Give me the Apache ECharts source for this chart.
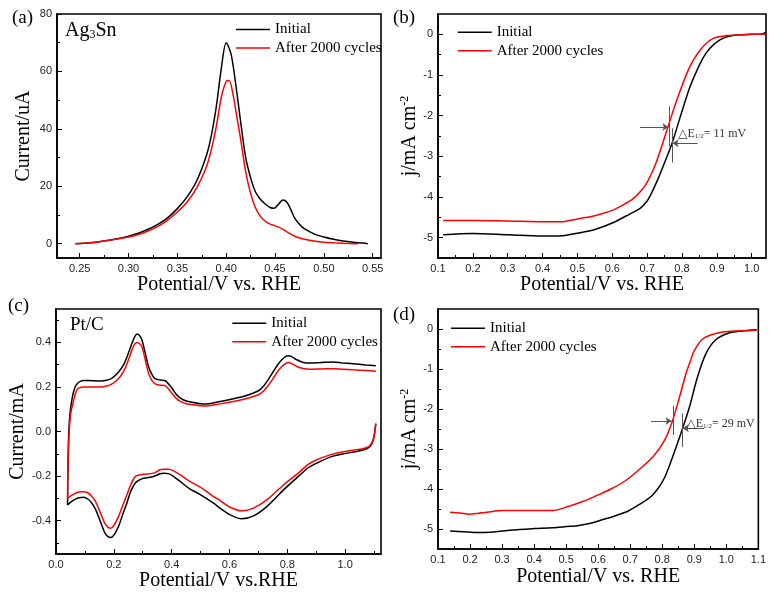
<!DOCTYPE html>
<html><head><meta charset="utf-8">
<script src="https://cdn.jsdelivr.net/npm/echarts@6/dist/echarts.min.js"></script>
<style>html,body{margin:0;padding:0;background:#fff}#c{width:769px;height:592px}</style>
</head><body><div id="c"></div>
<script>
const seriesNames = ['Initial', 'After 2000 cycles'];

// (a) Ag3Sn stripping peak, Current/uA vs potential
const aInitial = [[0.247,0],[0.26,0.3],[0.27,0.7],[0.28,1.2],[0.29,1.8],[0.30,2.6],[0.31,3.6],[0.32,5.0],[0.33,6.7],[0.34,9.0],[0.35,12.2],[0.36,16.3],[0.37,22.0],[0.38,31],[0.385,38],[0.39,48],[0.395,61],[0.40,70],[0.405,66],[0.41,55],[0.415,42],[0.42,30],[0.425,23],[0.43,18],[0.435,15.5],[0.44,13.8],[0.445,12.6],[0.449,12.3],[0.453,13.5],[0.458,15.2],[0.462,14.5],[0.466,12],[0.47,9],[0.475,6.8],[0.48,5.2],[0.49,3.4],[0.50,2.3],[0.51,1.5],[0.52,0.9],[0.53,0.5],[0.54,0.2],[0.545,0]];
const aAfter = [[0.245,0],[0.26,0.3],[0.27,0.7],[0.28,1.2],[0.29,1.7],[0.30,2.3],[0.31,3.2],[0.32,4.4],[0.33,6.0],[0.34,8.2],[0.35,11],[0.36,14.5],[0.37,19.5],[0.38,27],[0.385,33],[0.39,41],[0.395,51],[0.40,56.5],[0.403,56.8],[0.407,52],[0.41,46],[0.415,36],[0.42,25],[0.425,17.5],[0.43,12.5],[0.435,9.5],[0.44,7.8],[0.445,6.8],[0.45,6.2],[0.455,5.6],[0.46,4.6],[0.465,3.5],[0.47,2.6],[0.48,1.5],[0.49,0.9],[0.50,0.5],[0.51,0.3],[0.52,0.15],[0.535,0]];

// (b) Ag3Sn LSV, j/mA cm-2
const bInitial = [[0.115,-4.93],[0.2,-4.90],[0.3,-4.93],[0.4,-4.96],[0.45,-4.96],[0.5,-4.89],[0.55,-4.80],[0.6,-4.64],[0.65,-4.42],[0.68,-4.28],[0.70,-4.10],[0.71,-3.95],[0.72,-3.77],[0.73,-3.58],[0.742,-3.33],[0.771,-2.69],[0.795,-2.03],[0.823,-1.29],[0.852,-0.72],[0.87,-0.45],[0.89,-0.26],[0.91,-0.13],[0.929,-0.06],[0.95,-0.02],[0.97,-0.01],[1.0,0],[1.025,0.0],[1.04,0.05]];
const bAfter = [[0.115,-4.58],[0.2,-4.58],[0.3,-4.59],[0.4,-4.61],[0.45,-4.61],[0.5,-4.54],[0.55,-4.46],[0.6,-4.33],[0.63,-4.20],[0.66,-4.04],[0.685,-3.82],[0.70,-3.64],[0.72,-3.28],[0.737,-2.88],[0.761,-2.24],[0.790,-1.50],[0.818,-0.88],[0.835,-0.60],[0.852,-0.39],[0.87,-0.22],[0.89,-0.10],[0.929,-0.03],[0.97,-0.01],[1.0,0],[1.04,0]];
const bDeltaLines = [[0.762,-1.77,0.762,-2.76,'none'],[0.772,-2.31,0.772,-3.15,'none'],[0.680,-2.28,0.761,-2.28,'arrow'],[0.845,-2.68,0.773,-2.68,'arrow']];
const bDeltaText = [0.788,-2.44,'11 mV'];

// (c) Pt/C CV, Current/mA
const cInitial = [[1.106,0.035],[1.100,-0.02],[1.094,-0.05],[1.086,-0.067],[1.070,-0.080],[1.040,-0.090],[0.994,-0.100],[0.948,-0.115],[0.902,-0.142],[0.870,-0.165],[0.844,-0.195],[0.787,-0.262],[0.729,-0.337],[0.683,-0.379],[0.643,-0.392],[0.602,-0.374],[0.568,-0.345],[0.545,-0.322],[0.499,-0.283],[0.460,-0.255],[0.430,-0.225],[0.405,-0.200],[0.389,-0.189],[0.372,-0.187],[0.360,-0.190],[0.337,-0.202],[0.303,-0.210],[0.285,-0.220],[0.274,-0.232],[0.258,-0.270],[0.245,-0.322],[0.230,-0.375],[0.216,-0.427],[0.200,-0.465],[0.190,-0.476],[0.180,-0.472],[0.170,-0.457],[0.158,-0.420],[0.147,-0.382],[0.135,-0.345],[0.124,-0.322],[0.110,-0.303],[0.095,-0.295],[0.080,-0.297],[0.067,-0.304],[0.050,-0.318],[0.040,-0.330],
 [0.041,-0.20],[0.043,-0.05],[0.046,0.04],[0.050,0.10],[0.055,0.142],[0.060,0.175],[0.067,0.202],[0.075,0.217],[0.084,0.225],[0.095,0.229],[0.107,0.229],[0.153,0.227],[0.175,0.230],[0.194,0.240],[0.215,0.265],[0.234,0.300],[0.250,0.350],[0.263,0.397],[0.272,0.425],[0.280,0.438],[0.288,0.432],[0.297,0.412],[0.308,0.355],[0.320,0.292],[0.332,0.255],[0.343,0.237],[0.360,0.231],[0.378,0.228],[0.390,0.212],[0.401,0.195],[0.415,0.168],[0.430,0.150],[0.450,0.137],[0.476,0.130],[0.499,0.125],[0.522,0.124],[0.568,0.135],[0.614,0.147],[0.650,0.158],[0.683,0.173],[0.700,0.183],[0.712,0.195],[0.730,0.225],[0.752,0.270],[0.768,0.302],[0.781,0.322],[0.795,0.337],[0.804,0.340],[0.815,0.336],[0.833,0.322],[0.855,0.310],[0.879,0.307],[0.920,0.310],[0.959,0.312],[0.990,0.308],[1.028,0.304],[1.070,0.299],[1.106,0.295]];
const cAfter = [[1.106,0.035],[1.100,-0.025],[1.094,-0.045],[1.083,-0.067],[1.065,-0.076],[1.040,-0.082],[0.994,-0.091],[0.948,-0.105],[0.902,-0.127],[0.870,-0.150],[0.844,-0.180],[0.787,-0.240],[0.729,-0.307],[0.683,-0.344],[0.643,-0.356],[0.602,-0.340],[0.568,-0.310],[0.545,-0.292],[0.499,-0.250],[0.460,-0.222],[0.430,-0.195],[0.405,-0.176],[0.389,-0.169],[0.372,-0.169],[0.360,-0.172],[0.337,-0.187],[0.303,-0.192],[0.285,-0.196],[0.274,-0.202],[0.258,-0.240],[0.245,-0.285],[0.230,-0.335],[0.216,-0.382],[0.200,-0.422],[0.190,-0.434],[0.180,-0.430],[0.170,-0.415],[0.158,-0.380],[0.147,-0.344],[0.135,-0.310],[0.124,-0.292],[0.110,-0.275],[0.095,-0.270],[0.080,-0.272],[0.067,-0.277],[0.050,-0.290],[0.040,-0.300],
 [0.041,-0.18],[0.044,-0.05],[0.047,0.03],[0.052,0.09],[0.059,0.127],[0.065,0.160],[0.072,0.187],[0.080,0.196],[0.095,0.200],[0.153,0.200],[0.175,0.204],[0.194,0.214],[0.215,0.236],[0.234,0.270],[0.250,0.320],[0.263,0.367],[0.272,0.392],[0.280,0.400],[0.288,0.395],[0.297,0.382],[0.308,0.325],[0.320,0.262],[0.332,0.228],[0.343,0.214],[0.360,0.208],[0.378,0.205],[0.390,0.190],[0.401,0.172],[0.415,0.150],[0.430,0.135],[0.450,0.125],[0.476,0.120],[0.499,0.116],[0.522,0.115],[0.568,0.124],[0.614,0.135],[0.650,0.145],[0.683,0.157],[0.700,0.165],[0.712,0.175],[0.730,0.200],[0.752,0.240],[0.768,0.272],[0.781,0.292],[0.795,0.306],[0.804,0.310],[0.815,0.305],[0.833,0.292],[0.855,0.283],[0.879,0.280],[0.920,0.281],[0.959,0.282],[0.990,0.280],[1.028,0.277],[1.070,0.274],[1.106,0.271]];

// (d) Pt/C LSV, j/mA cm-2
const dInitial = [[0.138,-5.05],[0.18,-5.07],[0.222,-5.09],[0.263,-5.08],[0.3,-5.05],[0.355,-5.01],[0.4,-4.99],[0.458,-4.97],[0.5,-4.94],[0.54,-4.91],[0.58,-4.85],[0.612,-4.77],[0.65,-4.68],[0.694,-4.55],[0.73,-4.38],[0.766,-4.18],[0.79,-3.95],[0.807,-3.72],[0.825,-3.36],[0.844,-2.94],[0.862,-2.52],[0.885,-1.95],[0.91,-1.20],[0.936,-0.62],[0.967,-0.27],[1.008,-0.10],[1.049,-0.05],[1.095,-0.02]];
const dAfter = [[0.138,-4.58],[0.17,-4.60],[0.197,-4.63],[0.225,-4.61],[0.253,-4.58],[0.304,-4.54],[0.35,-4.54],[0.4,-4.54],[0.458,-4.54],[0.509,-4.43],[0.55,-4.32],[0.591,-4.18],[0.64,-4.0],[0.684,-3.80],[0.72,-3.57],[0.772,-3.19],[0.808,-2.77],[0.831,-2.32],[0.854,-1.70],[0.874,-1.12],[0.89,-0.75],[0.900,-0.54],[0.926,-0.25],[0.967,-0.11],[1.028,-0.05],[1.095,-0.03]];
const dDeltaLines = [[0.834,-1.92,0.834,-2.65,'none'],[0.862,-2.11,0.862,-2.95,'none'],[0.765,-2.30,0.829,-2.30,'arrow'],[0.931,-2.48,0.864,-2.48,'arrow']];
const dDeltaText = [0.874,-2.36,'29 mV'];

// tick values
const aXTicks = [0.25,0.30,0.35,0.40,0.45,0.50,0.55];
const aXMinor = [0.275,0.325,0.375,0.425,0.475,0.525];
const aYTicks = [0,20,40,60,80];
const aYMinor = [10,30,50,70];
const bXTicks = [0.1,0.2,0.3,0.4,0.5,0.6,0.7,0.8,0.9,1.0];
const bXMinor = [0.15,0.25,0.35,0.45,0.55,0.65,0.75,0.85,0.95];
const bYTicks = [-5,-4,-3,-2,-1,0];
const bYMinor = [-4.5,-3.5,-2.5,-1.5,-0.5];
const cXTicks = [0.0,0.2,0.4,0.6,0.8,1.0];
const cXMinor = [0.1,0.3,0.5,0.7,0.9,1.1];
const cYTicks = [-0.4,-0.2,0.0,0.2,0.4];
const cYMinor = [-0.5,-0.3,-0.1,0.1,0.3,0.5];
const dXTicks = [0.1,0.2,0.3,0.4,0.5,0.6,0.7,0.8,0.9,1.0,1.1];
const dXMinor = [0.15,0.25,0.35,0.45,0.55,0.65,0.75,0.85,0.95,1.05];
const dYTicks = [-5,-4,-3,-2,-1,0];
const dYMinor = [-4.5,-3.5,-2.5,-1.5,-0.5];

const SERIF = "'Liberation Serif','Times New Roman','DejaVu Serif',serif";
const SANS = "'Liberation Sans',Arial,sans-serif";
const supRich = {
  b: {fontFamily: SERIF, fontSize: 20, color: '#000'},
  sup: {fontFamily: SERIF, fontSize: 12, color: '#000', verticalAlign: 'top', padding: [0,0,8,0]}
};

const panels = [
  {grid:{left:57,top:14,width:324,height:244}, xr:[0.2268,0.5585], yr:[-5,80], xt:aXTicks, xm:aXMinor, yt:aYTicks, ym:aYMinor, xd:2, yd:0, xn:'Potential/V vs. RHE', yn:'Current/uA', xg:14, yg:23, d:[aInitial,aAfter], legend:{left:236,top:20.5}},
  {grid:{left:438,top:14,width:328,height:244}, xr:[0.1,1.041], yr:[-5.5,0.5], xt:bXTicks, xm:bXMinor, yt:bYTicks, ym:bYMinor, xd:1, yd:0, xn:'Potential/V vs. RHE', yn:'{b|j/mA cm}{sup|-2}', xg:14, yg:17, d:[bInitial,bAfter], legend:{left:457.7,top:23.3}, delta:[bDeltaLines,bDeltaText]},
  {grid:{left:56,top:309,width:325,height:245}, xr:[0,1.124], yr:[-0.55,0.55], xt:cXTicks, xm:cXMinor, yt:cYTicks, ym:cYMinor, xd:1, yd:1, xn:'Potential/V vs.RHE', yn:'Current/mA', xg:14, yg:22, d:[cInitial,cAfter], legend:{left:232.3,top:314.3}},
  {grid:{left:438,top:309,width:325,height:240}, xr:[0.1,1.1], yr:[-5.5,0.5], xt:dXTicks, xm:dXMinor, yt:dYTicks, ym:dYMinor, xd:1, yd:0, xn:'Potential/V vs. RHE', yn:'{b|j/mA cm}{sup|-2}', xg:18, yg:17, d:[dInitial,dAfter], legend:{left:451,top:319.3}, delta:[dDeltaLines,dDeltaText]}
];

const grids = [], xAxes = [], yAxes = [], series = [], legends = [];
const nameStyle = {fontFamily: SERIF, fontSize: 20, color: '#000', rich: supRich};
panels.forEach((p, i) => {
  grids.push(Object.assign({show:true, borderColor:'#000', borderWidth:1.6, backgroundColor:'transparent'}, p.grid));
  xAxes[i] = {type:'value', gridIndex:i, min:p.xr[0], max:p.xr[1], position:'bottom',
    axisLine:{show:true, onZero:false, lineStyle:{color:'#000', width:1.6}},
    axisTick:{show:true, inside:true, length:5, customValues:p.xt, lineStyle:{color:'#000', width:1}},
    axisLabel:{customValues:p.xt, formatter:(v)=>Number(v).toFixed(p.xd), fontFamily:SANS, fontSize:11, color:'#222', margin:5},
    splitLine:{show:false},
    name:p.xn, nameLocation:'middle', nameGap:p.xg, nameTextStyle:nameStyle};
  xAxes[i+4] = {type:'value', gridIndex:i, min:p.xr[0], max:p.xr[1], position:'bottom',
    axisLine:{show:false, onZero:false},
    axisTick:{show:true, inside:true, length:3, customValues:p.xm, lineStyle:{color:'#000', width:1}},
    axisLabel:{show:false}, splitLine:{show:false}};
  yAxes[i] = {type:'value', gridIndex:i, min:p.yr[0], max:p.yr[1], position:'left',
    axisLine:{show:true, onZero:false, lineStyle:{color:'#000', width:1.6}},
    axisTick:{show:true, inside:true, length:5, customValues:p.yt, lineStyle:{color:'#000', width:1}},
    axisLabel:{customValues:p.yt, formatter:(v)=>Number(v).toFixed(p.yd), fontFamily:SANS, fontSize:11, color:'#222', margin:5},
    splitLine:{show:false},
    name:p.yn, nameLocation:'middle', nameGap:p.yg, nameTextStyle:nameStyle};
  yAxes[i+4] = {type:'value', gridIndex:i, min:p.yr[0], max:p.yr[1], position:'left',
    axisLine:{show:false, onZero:false},
    axisTick:{show:true, inside:true, length:3, customValues:p.ym, lineStyle:{color:'#000', width:1}},
    axisLabel:{show:false}, splitLine:{show:false}};
  const colors = ['#000000', '#ff0000'];
  p.d.forEach((data, k) => {
    const s = {type:'line', name:seriesNames[k], xAxisIndex:i, yAxisIndex:i, data:data, symbol:'none',
      smooth:0.3, color:colors[k], lineStyle:{color:colors[k], width:1.5}, z:3+k};
    if (k === 0 && p.delta) {
      const [lines, txt] = p.delta;
      s.markLine = {silent:true, symbolSize:6, label:{show:false},
        lineStyle:{color:'#555', width:1, type:'solid'},
        data: lines.map(l => [{coord:[l[0],l[1]], symbol:'none'}, {coord:[l[2],l[3]], symbol:l[4]}])};
      s.markPoint = {silent:true, symbol:'circle', symbolSize:1, itemStyle:{color:'rgba(0,0,0,0)'},
        data:[{coord:[txt[0],txt[1]]}],
        label:{show:true, position:'right', distance:0, formatter:'{a|△E}{s|1/2}{a|= ' + txt[2] + '}',
          rich:{a:{fontFamily:SERIF, fontSize:12, color:'#333'}, s:{fontFamily:SERIF, fontSize:7, color:'#333', verticalAlign:'bottom', padding:[6,0,0,0]}}}};
    }
    series.push(s);
  });
  legends.push({orient:'vertical', left:p.legend.left, top:p.legend.top, padding:0, itemGap:0.5,
    itemWidth:34, itemHeight:1.5, icon:'rect', data:seriesNames.slice(),
    textStyle:{fontFamily:SERIF, fontSize:15, color:'#000', lineHeight:18}});
});

const labelFont = (sz) => ({fontFamily: SERIF, fontSize: sz, fill: '#000'});
const graphic = [
  {type:'text', left:12, top:9, style:Object.assign({text:'(a)'}, labelFont(19))},
  {type:'text', left:393, top:9, style:Object.assign({text:'(b)'}, labelFont(19))},
  {type:'text', left:8, top:297, style:Object.assign({text:'(c)'}, labelFont(19))},
  {type:'text', left:393, top:306, style:Object.assign({text:'(d)'}, labelFont(19))},
  {type:'text', left:65, top:21, style:{text:'{a|Ag}{s|3}{a|Sn}', rich:{a:{fontFamily:SERIF, fontSize:20, fill:'#000', color:'#000'}, s:{fontFamily:SERIF, fontSize:12, color:'#000', fill:'#000', verticalAlign:'bottom', padding:[8,0,0,0]}}}},
  {type:'text', left:70, top:316, style:Object.assign({text:'Pt/C'}, labelFont(19))}
];

const chart = echarts.init(document.getElementById('c'), null, {renderer:'canvas'});
chart.setOption({
  animation:false,
  backgroundColor:'#fff',
  grid:grids, xAxis:xAxes, yAxis:yAxes, series:series, legend:legends, graphic:graphic
});
</script>
</body></html>
